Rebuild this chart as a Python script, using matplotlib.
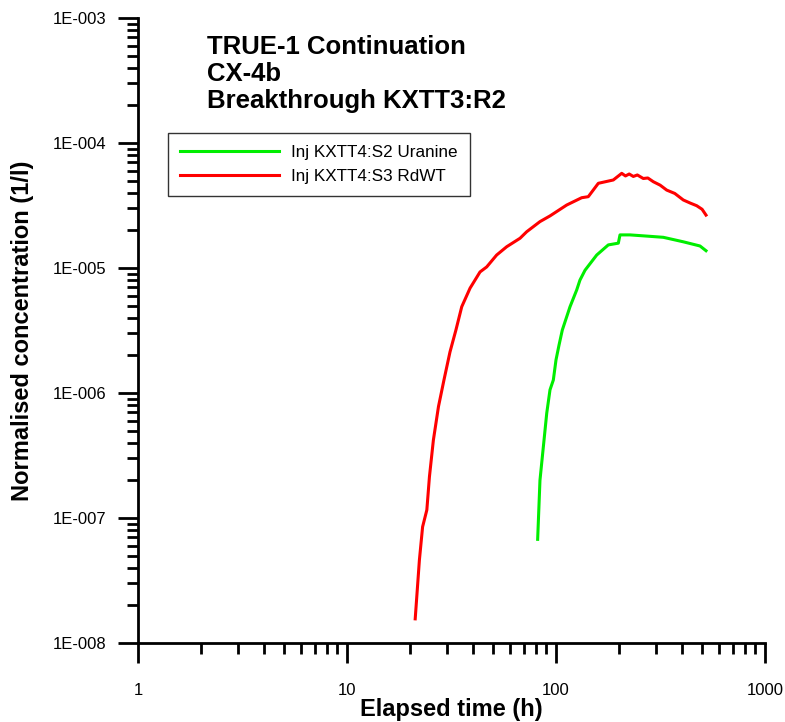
import numpy as np
import matplotlib.pyplot as plt
from matplotlib.ticker import FuncFormatter, LogLocator, FixedLocator

plt.rcParams['font.family'] = ['Liberation Sans', 'DejaVu Sans']

# Inj KXTT4:S3 RdWT (red)
rd_t = [21.2, 22.2, 23.0, 24.1, 24.8, 25.9, 27.4, 29.1, 31.1, 33.2, 35.4, 38.8,
        43.3, 46.6, 52.0, 58.1, 67.3, 72.4, 83.8, 93.6, 112.5, 132.7, 142.7,
        159.4, 188.0, 206.3, 215.0, 224.0, 234.4, 245.0, 261.6, 275.0, 292.2,
        315.0, 338.6, 370.0, 406.6, 440.0, 471.2, 500.0, 522.1]
rd_c = [1.56e-8, 4.6e-8, 8.5e-8, 1.16e-7, 2.14e-7, 4.2e-7, 7.8e-7, 1.27e-6,
        2.13e-6, 3.19e-6, 4.9e-6, 6.9e-6, 9.3e-6, 1.02e-5, 1.27e-5, 1.48e-5,
        1.73e-5, 1.95e-5, 2.35e-5, 2.61e-5, 3.19e-5, 3.65e-5, 3.72e-5, 4.76e-5,
        5.06e-5, 5.72e-5, 5.45e-5, 5.65e-5, 5.4e-5, 5.55e-5, 5.2e-5, 5.25e-5,
        4.9e-5, 4.6e-5, 4.2e-5, 3.95e-5, 3.5e-5, 3.3e-5, 3.15e-5, 2.95e-5, 2.65e-5]

# Inj KXTT4:S2 Uranine (green)
ur_t = [81.7, 83.8, 85.4, 87.0, 90.3, 93.6, 97.1, 100.0, 103.4, 107.2, 116.7,
        125.6, 130.2, 137.7, 156.6, 177.9, 198.7, 202.4, 226.0, 271.6, 326.2,
        406.6, 488.7, 522.1]
ur_c = [6.75e-8, 2.0e-7, 2.74e-7, 3.72e-7, 6.9e-7, 1.06e-6, 1.27e-6, 1.84e-6,
        2.42e-6, 3.19e-6, 4.9e-6, 6.67e-6, 8.0e-6, 9.6e-6, 1.27e-5, 1.53e-5,
        1.58e-5, 1.84e-5, 1.84e-5, 1.80e-5, 1.76e-5, 1.62e-5, 1.50e-5, 1.375e-5]

fig = plt.figure(figsize=(7.85, 7.22), dpi=100)
ax = fig.add_axes([138 / 785, 1 - 643 / 722, (765 - 138) / 785, (643 - 18) / 722])

ax.plot(ur_t, ur_c, color='#00ee00', lw=2.2, label='Inj KXTT4:S2 Uranine')
ax.plot(rd_t, rd_c, color='#ff0000', lw=2.2, label='Inj KXTT4:S3 RdWT')

ax.set_xscale('log')
ax.set_yscale('log')
ax.set_xlim(1, 1000)
ax.set_ylim(1e-8, 1e-3)

for s in ['top', 'right']:
    ax.spines[s].set_visible(False)
for s in ['left', 'bottom']:
    ax.spines[s].set_linewidth(2)

ax.xaxis.set_major_locator(FixedLocator([1, 10, 100, 1000]))
ax.xaxis.set_minor_locator(LogLocator(base=10, subs=np.arange(2, 10)))
ax.xaxis.set_major_formatter(FuncFormatter(lambda v, p: f'{v:g}'))
ax.yaxis.set_major_locator(FixedLocator([1e-8, 1e-7, 1e-6, 1e-5, 1e-4, 1e-3]))
ax.yaxis.set_minor_locator(LogLocator(base=10, subs=np.arange(2, 10)))
ax.yaxis.set_major_formatter(FuncFormatter(
    lambda v, p: '1E-%03d' % round(-np.log10(v))))
ax.tick_params(which='major', direction='out', length=14.5, width=2, labelsize=12)
ax.tick_params(which='minor', direction='out', length=8, width=2)
ax.tick_params(axis='x', which='major', pad=14)
ax.tick_params(axis='y', which='major', pad=8)

ax.set_xlabel('Elapsed time (h)', fontsize=17, fontweight='bold', labelpad=0)
ax.set_ylabel('Normalised concentration (1/l)', fontsize=17, fontweight='bold', labelpad=14)

fig.text(207 / 785, 1 - 35 / 722, 'TRUE-1 Continuation\nCX-4b\nBreakthrough KXTT3:R2',
         fontsize=18.5, fontweight='bold', va='top', ha='left', linespacing=1.17)

leg = ax.legend(loc='upper left', bbox_to_anchor=((168 - 138) / 627, 1 - (133 - 18) / 625),
                fontsize=12.3, frameon=True, fancybox=False, handlelength=5.8,
                handletextpad=0.7, borderaxespad=0, borderpad=0.7, labelspacing=0.53)
leg.get_frame().set_edgecolor('black')
leg.get_frame().set_linewidth(1)

fig.savefig('out.png', dpi=100)
